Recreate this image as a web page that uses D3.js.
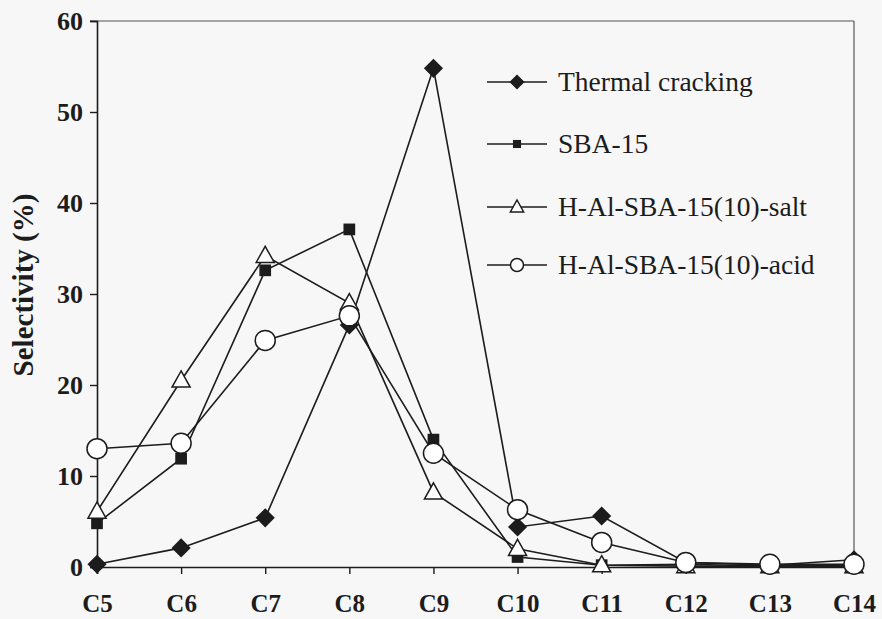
<!DOCTYPE html>
<html>
<head>
<meta charset="utf-8">
<script src="https://cdn.jsdelivr.net/npm/d3@7"></script>
<style>
  body { margin: 0; background: #f7f7f7; }
  svg { display: block; }
</style>
</head>
<body>
<div id="wrapper"></div>
<script>
// data
const categories = ["C5", "C6", "C7", "C8", "C9", "C10", "C11", "C12", "C13", "C14"]
const thermal = [0.3, 2.1, 5.4, 26.6, 54.8, 4.4, 5.6, 0.5, 0.2, 0.8]
const sba15 = [4.8, 11.9, 32.6, 37.1, 14.0, 1.1, 0.2, 0.3, 0.1, 0.2]
const salt = [6.1, 20.5, 34.2, 29.0, 8.2, 2.0, 0.2, 0.1, 0.1, 0.1]
const acid = [13.0, 13.6, 24.9, 27.6, 12.5, 6.3, 2.7, 0.5, 0.3, 0.3]
const seriesNames = ["Thermal cracking", "SBA-15", "H-Al-SBA-15(10)-salt", "H-Al-SBA-15(10)-acid"]
const yTicks = [0, 10, 20, 30, 40, 50, 60]

const series = [
  { name: seriesNames[0], values: thermal, marker: "diamond" },
  { name: seriesNames[1], values: sba15, marker: "square" },
  { name: seriesNames[2], values: salt, marker: "triangle" },
  { name: seriesNames[3], values: acid, marker: "circle" },
]

const width = 882
const height = 619
const margin = { top: 21, right: 28, bottom: 52, left: 97 }
const boundedWidth = width - margin.left - margin.right
const boundedHeight = height - margin.top - margin.bottom
const ink = "#1c1c1c"
const serif = "'Liberation Serif', 'Times New Roman', serif"

const svg = d3.select("#wrapper")
  .append("svg")
    .attr("width", width)
    .attr("height", height)

const bounds = svg.append("g")
    .attr("transform", `translate(${margin.left},${margin.top})`)

const xScale = d3.scalePoint()
  .domain(categories)
  .range([0, boundedWidth])

const yScale = d3.scaleLinear()
  .domain([0, 60])
  .range([boundedHeight, 0])

// frame (top and right, thin)
bounds.append("line")
    .attr("x1", -7).attr("x2", boundedWidth)
    .attr("y1", 0).attr("y2", 0)
    .attr("stroke", "#555").attr("stroke-width", 1.2)
bounds.append("line")
    .attr("x1", boundedWidth).attr("x2", boundedWidth)
    .attr("y1", 0).attr("y2", boundedHeight)
    .attr("stroke", "#555").attr("stroke-width", 1.2)

// axes
const yAxis = bounds.append("g")
    .call(d3.axisLeft(yScale).tickValues(yTicks).tickSize(7).tickPadding(7))
const xAxis = bounds.append("g")
    .attr("transform", `translate(0,${boundedHeight})`)
    .call(d3.axisBottom(xScale).tickSize(7).tickPadding(20))

for (const ax of [xAxis, yAxis]) {
  ax.select(".domain").attr("stroke", ink).attr("stroke-width", 1.6)
  ax.selectAll(".tick line").attr("stroke", ink).attr("stroke-width", 1.4)
  ax.selectAll(".tick text")
      .attr("fill", ink)
      .style("font-family", serif)
      .style("font-weight", "bold")
      .style("font-size", "25px")
}
yAxis.selectAll(".tick text").attr("dy", "0.34em").style("font-size", "26px")

svg.append("text")
    .attr("transform", `translate(33,285) rotate(-90)`)
    .attr("text-anchor", "middle")
    .attr("fill", ink)
    .style("font-family", serif)
    .style("font-weight", "bold")
    .style("font-size", "29px")
    .text("Selectivity (%)")

// markers
const drawMarker = (sel, type, s) => {
  if (type === "circle") {
    sel.append("circle").attr("r", s).attr("fill", "#fff")
  } else if (type === "diamond") {
    sel.append("path")
        .attr("d", `M0,${-s}L${s},0L0,${s}L${-s},0Z`).attr("fill", ink)
  } else if (type === "square") {
    sel.append("rect")
        .attr("x", -s * 0.6).attr("y", -s * 0.6)
        .attr("width", s * 1.2).attr("height", s * 1.2).attr("fill", ink)
  } else {
    sel.append("path")
        .attr("d", `M0,${-s}L${s * 0.95},${s * 0.7}L${-s * 0.95},${s * 0.7}Z`)
        .attr("fill", "#fff")
  }
  sel.selectAll("*").attr("stroke", ink).attr("stroke-width", 1.5)
}

const markerSize = { diamond: 8.5, square: 8.5, triangle: 9.5, circle: 10 }

const line = d3.line()
  .x((d, i) => xScale(categories[i]))
  .y(d => yScale(d))

const seriesGroups = bounds.selectAll(".series")
  .data(series)
  .join("g")
    .attr("class", "series")

seriesGroups.append("path")
    .attr("d", d => line(d.values))
    .attr("fill", "none")
    .attr("stroke", ink)
    .attr("stroke-width", 1.6)

seriesGroups.each(function (s) {
  d3.select(this).selectAll(".pt")
    .data(s.values)
    .join("g")
      .attr("class", "pt")
      .attr("transform", (d, i) => `translate(${xScale(categories[i])},${yScale(d)})`)
      .each(function () { drawMarker(d3.select(this), s.marker, markerSize[s.marker]) })
})

// legend
const legendRows = [82, 144, 207, 265]
const legendMarkerSize = { diamond: 6.5, square: 5.5, triangle: 7, circle: 6.5 }
const legend = svg.append("g")
const legendItems = legend.selectAll("g")
  .data(series)
  .join("g")
    .attr("transform", (d, i) => `translate(487,${legendRows[i]})`)

legendItems.append("line")
    .attr("x1", 0).attr("x2", 60)
    .attr("stroke", ink).attr("stroke-width", 1.6)
legendItems.append("g")
    .attr("transform", "translate(30,0)")
    .each(function (d) { drawMarker(d3.select(this), d.marker, legendMarkerSize[d.marker]) })
legendItems.append("text")
    .attr("x", 71)
    .attr("dy", "0.33em")
    .attr("fill", ink)
    .style("font-family", serif)
    .style("font-size", "27.5px")
    .text(d => d.name)
</script>
</body>
</html>
